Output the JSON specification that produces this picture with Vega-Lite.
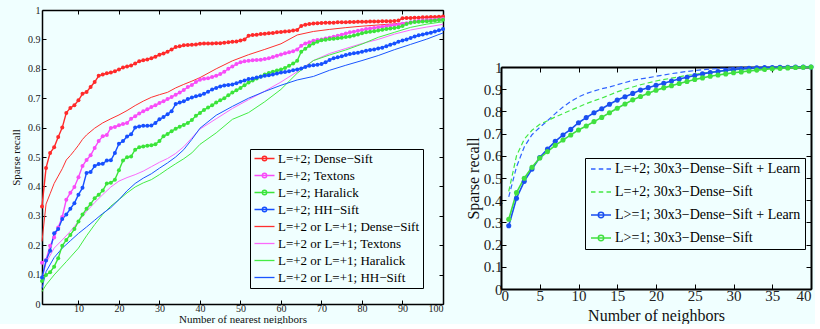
{
"$schema":"https://vega.github.io/schema/vega-lite/v6.json",
"background":"#f0ffff",
"padding":{"left":10,"top":5,"right":0,"bottom":0},
"spacing":19,
"config":{"font":"Liberation Serif","view":{"stroke":null},
"axis":{"grid":false,"domainColor":"black","tickColor":"black","labelColor":"#222","titleColor":"#111","labelFont":"Liberation Serif","titleFont":"Liberation Serif","titleFontWeight":"normal","labelOverlap":false}},
"resolve":{"scale":{"color":"independent","fill":"independent","stroke":"independent","shape":"independent"},"legend":{"color":"independent","fill":"independent","stroke":"independent","shape":"independent"}},
"datasets":{
"lm":[
{"s":"a","x":1,"y":0.332},{"s":"a","x":2,"y":0.463},{"s":"a","x":3,"y":0.514},{"s":"a","x":4,"y":0.533},{"s":"a","x":5,"y":0.568},{"s":"a","x":6,"y":0.600},{"s":"a","x":7,"y":0.650},{"s":"a","x":8,"y":0.667},{"s":"a","x":9,"y":0.676},{"s":"a","x":10,"y":0.693},
{"s":"a","x":11,"y":0.715},{"s":"a","x":12,"y":0.721},{"s":"a","x":13,"y":0.738},{"s":"a","x":14,"y":0.755},{"s":"a","x":15,"y":0.776},{"s":"a","x":16,"y":0.781},{"s":"a","x":17,"y":0.785},{"s":"a","x":18,"y":0.787},{"s":"a","x":19,"y":0.792},{"s":"a","x":20,"y":0.798},
{"s":"a","x":21,"y":0.804},{"s":"a","x":22,"y":0.808},{"s":"a","x":23,"y":0.811},{"s":"a","x":24,"y":0.818},{"s":"a","x":25,"y":0.826},{"s":"a","x":26,"y":0.829},{"s":"a","x":27,"y":0.832},{"s":"a","x":28,"y":0.836},{"s":"a","x":29,"y":0.841},{"s":"a","x":30,"y":0.848},
{"s":"a","x":31,"y":0.852},{"s":"a","x":32,"y":0.858},{"s":"a","x":33,"y":0.866},{"s":"a","x":34,"y":0.874},{"s":"a","x":35,"y":0.877},{"s":"a","x":36,"y":0.880},{"s":"a","x":37,"y":0.881},{"s":"a","x":38,"y":0.882},{"s":"a","x":39,"y":0.883},{"s":"a","x":40,"y":0.885},
{"s":"a","x":41,"y":0.886},{"s":"a","x":42,"y":0.886},{"s":"a","x":43,"y":0.886},{"s":"a","x":44,"y":0.887},{"s":"a","x":45,"y":0.887},{"s":"a","x":46,"y":0.889},{"s":"a","x":47,"y":0.890},{"s":"a","x":48,"y":0.892},{"s":"a","x":49,"y":0.893},{"s":"a","x":50,"y":0.896},
{"s":"a","x":51,"y":0.900},{"s":"a","x":52,"y":0.912},{"s":"a","x":53,"y":0.915},{"s":"a","x":54,"y":0.916},{"s":"a","x":55,"y":0.918},{"s":"a","x":56,"y":0.919},{"s":"a","x":57,"y":0.921},{"s":"a","x":58,"y":0.922},{"s":"a","x":59,"y":0.924},{"s":"a","x":60,"y":0.925},
{"s":"a","x":61,"y":0.927},{"s":"a","x":62,"y":0.928},{"s":"a","x":63,"y":0.930},{"s":"a","x":64,"y":0.932},{"s":"a","x":65,"y":0.946},{"s":"a","x":66,"y":0.950},{"s":"a","x":67,"y":0.952},{"s":"a","x":68,"y":0.954},{"s":"a","x":69,"y":0.955},{"s":"a","x":70,"y":0.956},
{"s":"a","x":71,"y":0.957},{"s":"a","x":72,"y":0.957},{"s":"a","x":73,"y":0.957},{"s":"a","x":74,"y":0.958},{"s":"a","x":75,"y":0.958},{"s":"a","x":76,"y":0.958},{"s":"a","x":77,"y":0.959},{"s":"a","x":78,"y":0.959},{"s":"a","x":79,"y":0.960},{"s":"a","x":80,"y":0.960},
{"s":"a","x":81,"y":0.960},{"s":"a","x":82,"y":0.961},{"s":"a","x":83,"y":0.961},{"s":"a","x":84,"y":0.961},{"s":"a","x":85,"y":0.962},{"s":"a","x":86,"y":0.962},{"s":"a","x":87,"y":0.962},{"s":"a","x":88,"y":0.963},{"s":"a","x":89,"y":0.964},{"s":"a","x":90,"y":0.972},
{"s":"a","x":91,"y":0.973},{"s":"a","x":92,"y":0.973},{"s":"a","x":93,"y":0.974},{"s":"a","x":94,"y":0.974},{"s":"a","x":95,"y":0.975},{"s":"a","x":96,"y":0.975},{"s":"a","x":97,"y":0.976},{"s":"a","x":98,"y":0.976},{"s":"a","x":99,"y":0.977},{"s":"a","x":100,"y":0.978},
{"s":"b","x":1,"y":0.140},{"s":"b","x":2,"y":0.150},{"s":"b","x":3,"y":0.198},{"s":"b","x":4,"y":0.226},{"s":"b","x":5,"y":0.260},{"s":"b","x":6,"y":0.296},{"s":"b","x":7,"y":0.355},{"s":"b","x":8,"y":0.378},{"s":"b","x":9,"y":0.398},{"s":"b","x":10,"y":0.431},
{"s":"b","x":11,"y":0.469},{"s":"b","x":12,"y":0.490},{"s":"b","x":13,"y":0.506},{"s":"b","x":14,"y":0.531},{"s":"b","x":15,"y":0.554},{"s":"b","x":16,"y":0.571},{"s":"b","x":17,"y":0.575},{"s":"b","x":18,"y":0.599},{"s":"b","x":19,"y":0.602},{"s":"b","x":20,"y":0.608},
{"s":"b","x":21,"y":0.612},{"s":"b","x":22,"y":0.616},{"s":"b","x":23,"y":0.630},{"s":"b","x":24,"y":0.639},{"s":"b","x":25,"y":0.648},{"s":"b","x":26,"y":0.656},{"s":"b","x":27,"y":0.662},{"s":"b","x":28,"y":0.670},{"s":"b","x":29,"y":0.676},{"s":"b","x":30,"y":0.684},
{"s":"b","x":31,"y":0.690},{"s":"b","x":32,"y":0.697},{"s":"b","x":33,"y":0.704},{"s":"b","x":34,"y":0.712},{"s":"b","x":35,"y":0.719},{"s":"b","x":36,"y":0.728},{"s":"b","x":37,"y":0.738},{"s":"b","x":38,"y":0.745},{"s":"b","x":39,"y":0.755},{"s":"b","x":40,"y":0.763},
{"s":"b","x":41,"y":0.766},{"s":"b","x":42,"y":0.768},{"s":"b","x":43,"y":0.772},{"s":"b","x":44,"y":0.776},{"s":"b","x":45,"y":0.782},{"s":"b","x":46,"y":0.790},{"s":"b","x":47,"y":0.800},{"s":"b","x":48,"y":0.808},{"s":"b","x":49,"y":0.816},{"s":"b","x":50,"y":0.822},
{"s":"b","x":51,"y":0.826},{"s":"b","x":52,"y":0.827},{"s":"b","x":53,"y":0.829},{"s":"b","x":54,"y":0.830},{"s":"b","x":55,"y":0.831},{"s":"b","x":56,"y":0.833},{"s":"b","x":57,"y":0.836},{"s":"b","x":58,"y":0.840},{"s":"b","x":59,"y":0.844},{"s":"b","x":60,"y":0.849},
{"s":"b","x":61,"y":0.853},{"s":"b","x":62,"y":0.856},{"s":"b","x":63,"y":0.860},{"s":"b","x":64,"y":0.866},{"s":"b","x":65,"y":0.878},{"s":"b","x":66,"y":0.886},{"s":"b","x":67,"y":0.890},{"s":"b","x":68,"y":0.895},{"s":"b","x":69,"y":0.898},{"s":"b","x":70,"y":0.900},
{"s":"b","x":71,"y":0.903},{"s":"b","x":72,"y":0.906},{"s":"b","x":73,"y":0.909},{"s":"b","x":74,"y":0.912},{"s":"b","x":75,"y":0.916},{"s":"b","x":76,"y":0.920},{"s":"b","x":77,"y":0.924},{"s":"b","x":78,"y":0.926},{"s":"b","x":79,"y":0.929},{"s":"b","x":80,"y":0.932},
{"s":"b","x":81,"y":0.935},{"s":"b","x":82,"y":0.937},{"s":"b","x":83,"y":0.939},{"s":"b","x":84,"y":0.941},{"s":"b","x":85,"y":0.943},{"s":"b","x":86,"y":0.945},{"s":"b","x":87,"y":0.947},{"s":"b","x":88,"y":0.949},{"s":"b","x":89,"y":0.951},{"s":"b","x":90,"y":0.953},
{"s":"b","x":91,"y":0.955},{"s":"b","x":92,"y":0.958},{"s":"b","x":93,"y":0.961},{"s":"b","x":94,"y":0.963},{"s":"b","x":95,"y":0.964},{"s":"b","x":96,"y":0.965},{"s":"b","x":97,"y":0.966},{"s":"b","x":98,"y":0.967},{"s":"b","x":99,"y":0.968},{"s":"b","x":100,"y":0.969},
{"s":"c","x":1,"y":0.078},{"s":"c","x":2,"y":0.099},{"s":"c","x":3,"y":0.108},{"s":"c","x":4,"y":0.127},{"s":"c","x":5,"y":0.156},{"s":"c","x":6,"y":0.198},{"s":"c","x":7,"y":0.218},{"s":"c","x":8,"y":0.235},{"s":"c","x":9,"y":0.255},{"s":"c","x":10,"y":0.281},
{"s":"c","x":11,"y":0.304},{"s":"c","x":12,"y":0.324},{"s":"c","x":13,"y":0.340},{"s":"c","x":14,"y":0.360},{"s":"c","x":15,"y":0.372},{"s":"c","x":16,"y":0.386},{"s":"c","x":17,"y":0.410},{"s":"c","x":18,"y":0.412},{"s":"c","x":19,"y":0.423},{"s":"c","x":20,"y":0.455},
{"s":"c","x":21,"y":0.488},{"s":"c","x":22,"y":0.499},{"s":"c","x":23,"y":0.502},{"s":"c","x":24,"y":0.525},{"s":"c","x":25,"y":0.533},{"s":"c","x":26,"y":0.536},{"s":"c","x":27,"y":0.538},{"s":"c","x":28,"y":0.540},{"s":"c","x":29,"y":0.543},{"s":"c","x":30,"y":0.554},
{"s":"c","x":31,"y":0.571},{"s":"c","x":32,"y":0.578},{"s":"c","x":33,"y":0.588},{"s":"c","x":34,"y":0.596},{"s":"c","x":35,"y":0.603},{"s":"c","x":36,"y":0.609},{"s":"c","x":37,"y":0.616},{"s":"c","x":38,"y":0.626},{"s":"c","x":39,"y":0.640},{"s":"c","x":40,"y":0.650},
{"s":"c","x":41,"y":0.660},{"s":"c","x":42,"y":0.668},{"s":"c","x":43,"y":0.676},{"s":"c","x":44,"y":0.685},{"s":"c","x":45,"y":0.693},{"s":"c","x":46,"y":0.700},{"s":"c","x":47,"y":0.710},{"s":"c","x":48,"y":0.719},{"s":"c","x":49,"y":0.727},{"s":"c","x":50,"y":0.735},
{"s":"c","x":51,"y":0.744},{"s":"c","x":52,"y":0.753},{"s":"c","x":53,"y":0.760},{"s":"c","x":54,"y":0.767},{"s":"c","x":55,"y":0.774},{"s":"c","x":56,"y":0.781},{"s":"c","x":57,"y":0.786},{"s":"c","x":58,"y":0.790},{"s":"c","x":59,"y":0.794},{"s":"c","x":60,"y":0.798},
{"s":"c","x":61,"y":0.803},{"s":"c","x":62,"y":0.810},{"s":"c","x":63,"y":0.818},{"s":"c","x":64,"y":0.827},{"s":"c","x":65,"y":0.858},{"s":"c","x":66,"y":0.868},{"s":"c","x":67,"y":0.878},{"s":"c","x":68,"y":0.886},{"s":"c","x":69,"y":0.892},{"s":"c","x":70,"y":0.897},
{"s":"c","x":71,"y":0.899},{"s":"c","x":72,"y":0.901},{"s":"c","x":73,"y":0.902},{"s":"c","x":74,"y":0.904},{"s":"c","x":75,"y":0.906},{"s":"c","x":76,"y":0.908},{"s":"c","x":77,"y":0.910},{"s":"c","x":78,"y":0.913},{"s":"c","x":79,"y":0.917},{"s":"c","x":80,"y":0.921},
{"s":"c","x":81,"y":0.924},{"s":"c","x":82,"y":0.926},{"s":"c","x":83,"y":0.928},{"s":"c","x":84,"y":0.930},{"s":"c","x":85,"y":0.933},{"s":"c","x":86,"y":0.935},{"s":"c","x":87,"y":0.937},{"s":"c","x":88,"y":0.939},{"s":"c","x":89,"y":0.941},{"s":"c","x":90,"y":0.946},
{"s":"c","x":91,"y":0.952},{"s":"c","x":92,"y":0.957},{"s":"c","x":93,"y":0.959},{"s":"c","x":94,"y":0.960},{"s":"c","x":95,"y":0.961},{"s":"c","x":96,"y":0.962},{"s":"c","x":97,"y":0.963},{"s":"c","x":98,"y":0.964},{"s":"c","x":99,"y":0.966},{"s":"c","x":100,"y":0.967},
{"s":"d","x":1,"y":0.090},{"s":"d","x":2,"y":0.148},{"s":"d","x":3,"y":0.181},{"s":"d","x":4,"y":0.241},{"s":"d","x":5,"y":0.255},{"s":"d","x":6,"y":0.289},{"s":"d","x":7,"y":0.304},{"s":"d","x":8,"y":0.324},{"s":"d","x":9,"y":0.343},{"s":"d","x":10,"y":0.372},
{"s":"d","x":11,"y":0.395},{"s":"d","x":12,"y":0.446},{"s":"d","x":13,"y":0.449},{"s":"d","x":14,"y":0.469},{"s":"d","x":15,"y":0.476},{"s":"d","x":16,"y":0.477},{"s":"d","x":17,"y":0.488},{"s":"d","x":18,"y":0.489},{"s":"d","x":19,"y":0.514},{"s":"d","x":20,"y":0.545},
{"s":"d","x":21,"y":0.554},{"s":"d","x":22,"y":0.570},{"s":"d","x":23,"y":0.577},{"s":"d","x":24,"y":0.600},{"s":"d","x":25,"y":0.604},{"s":"d","x":26,"y":0.606},{"s":"d","x":27,"y":0.606},{"s":"d","x":28,"y":0.607},{"s":"d","x":29,"y":0.616},{"s":"d","x":30,"y":0.628},
{"s":"d","x":31,"y":0.636},{"s":"d","x":32,"y":0.645},{"s":"d","x":33,"y":0.656},{"s":"d","x":34,"y":0.680},{"s":"d","x":35,"y":0.685},{"s":"d","x":36,"y":0.690},{"s":"d","x":37,"y":0.697},{"s":"d","x":38,"y":0.702},{"s":"d","x":39,"y":0.707},{"s":"d","x":40,"y":0.710},
{"s":"d","x":41,"y":0.715},{"s":"d","x":42,"y":0.722},{"s":"d","x":43,"y":0.730},{"s":"d","x":44,"y":0.735},{"s":"d","x":45,"y":0.740},{"s":"d","x":46,"y":0.743},{"s":"d","x":47,"y":0.745},{"s":"d","x":48,"y":0.747},{"s":"d","x":49,"y":0.751},{"s":"d","x":50,"y":0.756},
{"s":"d","x":51,"y":0.760},{"s":"d","x":52,"y":0.765},{"s":"d","x":53,"y":0.767},{"s":"d","x":54,"y":0.770},{"s":"d","x":55,"y":0.773},{"s":"d","x":56,"y":0.776},{"s":"d","x":57,"y":0.778},{"s":"d","x":58,"y":0.781},{"s":"d","x":59,"y":0.784},{"s":"d","x":60,"y":0.787},
{"s":"d","x":61,"y":0.789},{"s":"d","x":62,"y":0.792},{"s":"d","x":63,"y":0.795},{"s":"d","x":64,"y":0.798},{"s":"d","x":65,"y":0.801},{"s":"d","x":66,"y":0.806},{"s":"d","x":67,"y":0.810},{"s":"d","x":68,"y":0.812},{"s":"d","x":69,"y":0.814},{"s":"d","x":70,"y":0.816},
{"s":"d","x":71,"y":0.822},{"s":"d","x":72,"y":0.830},{"s":"d","x":73,"y":0.836},{"s":"d","x":74,"y":0.839},{"s":"d","x":75,"y":0.843},{"s":"d","x":76,"y":0.847},{"s":"d","x":77,"y":0.850},{"s":"d","x":78,"y":0.853},{"s":"d","x":79,"y":0.855},{"s":"d","x":80,"y":0.858},
{"s":"d","x":81,"y":0.861},{"s":"d","x":82,"y":0.864},{"s":"d","x":83,"y":0.866},{"s":"d","x":84,"y":0.869},{"s":"d","x":85,"y":0.872},{"s":"d","x":86,"y":0.877},{"s":"d","x":87,"y":0.882},{"s":"d","x":88,"y":0.886},{"s":"d","x":89,"y":0.892},{"s":"d","x":90,"y":0.896},
{"s":"d","x":91,"y":0.900},{"s":"d","x":92,"y":0.905},{"s":"d","x":93,"y":0.910},{"s":"d","x":94,"y":0.914},{"s":"d","x":95,"y":0.917},{"s":"d","x":96,"y":0.920},{"s":"d","x":97,"y":0.923},{"s":"d","x":98,"y":0.927},{"s":"d","x":99,"y":0.931},{"s":"d","x":100,"y":0.935}
],
"lt":[
{"s":"e","x":1,"y":0.213},{"s":"e","x":2,"y":0.34},{"s":"e","x":3,"y":0.375},{"s":"e","x":4,"y":0.41},{"s":"e","x":5,"y":0.435},{"s":"e","x":6,"y":0.46},{"s":"e","x":7,"y":0.49},{"s":"e","x":8,"y":0.505},{"s":"e","x":9,"y":0.522},{"s":"e","x":10,"y":0.54},{"s":"e","x":11,"y":0.56},{"s":"e","x":12,"y":0.575},{"s":"e","x":14,"y":0.598},{"s":"e","x":16,"y":0.616},{"s":"e","x":18,"y":0.630},{"s":"e","x":20,"y":0.643},{"s":"e","x":22,"y":0.658},{"s":"e","x":24,"y":0.675},{"s":"e","x":26,"y":0.690},{"s":"e","x":28,"y":0.703},{"s":"e","x":30,"y":0.712},{"s":"e","x":32,"y":0.720},{"s":"e","x":34,"y":0.735},{"s":"e","x":36,"y":0.747},{"s":"e","x":38,"y":0.758},{"s":"e","x":40,"y":0.770},{"s":"e","x":44,"y":0.800},{"s":"e","x":48,"y":0.827},{"s":"e","x":52,"y":0.848},{"s":"e","x":56,"y":0.866},{"s":"e","x":60,"y":0.885},{"s":"e","x":64,"y":0.915},{"s":"e","x":68,"y":0.927},{"s":"e","x":72,"y":0.934},{"s":"e","x":76,"y":0.940},{"s":"e","x":80,"y":0.945},{"s":"e","x":84,"y":0.949},{"s":"e","x":88,"y":0.953},{"s":"e","x":92,"y":0.958},{"s":"e","x":96,"y":0.963},{"s":"e","x":100,"y":0.968},
{"s":"f","x":1,"y":0.082},{"s":"f","x":2,"y":0.14},{"s":"f","x":4,"y":0.19},{"s":"f","x":6,"y":0.218},{"s":"f","x":8,"y":0.247},{"s":"f","x":10,"y":0.281},{"s":"f","x":12,"y":0.315},{"s":"f","x":14,"y":0.345},{"s":"f","x":16,"y":0.372},{"s":"f","x":18,"y":0.398},{"s":"f","x":20,"y":0.418},{"s":"f","x":22,"y":0.430},{"s":"f","x":24,"y":0.440},{"s":"f","x":26,"y":0.452},{"s":"f","x":28,"y":0.467},{"s":"f","x":30,"y":0.482},{"s":"f","x":32,"y":0.495},{"s":"f","x":34,"y":0.512},{"s":"f","x":36,"y":0.535},{"s":"f","x":38,"y":0.565},{"s":"f","x":40,"y":0.595},{"s":"f","x":44,"y":0.630},{"s":"f","x":48,"y":0.665},{"s":"f","x":52,"y":0.695},{"s":"f","x":56,"y":0.724},{"s":"f","x":60,"y":0.755},{"s":"f","x":64,"y":0.790},{"s":"f","x":68,"y":0.828},{"s":"f","x":72,"y":0.852},{"s":"f","x":76,"y":0.869},{"s":"f","x":80,"y":0.886},{"s":"f","x":84,"y":0.900},{"s":"f","x":88,"y":0.918},{"s":"f","x":92,"y":0.932},{"s":"f","x":96,"y":0.942},{"s":"f","x":100,"y":0.951},
{"s":"g","x":1,"y":0.042},{"s":"g","x":2,"y":0.065},{"s":"g","x":4,"y":0.099},{"s":"g","x":7,"y":0.144},{"s":"g","x":10,"y":0.19},{"s":"g","x":12,"y":0.232},{"s":"g","x":14,"y":0.27},{"s":"g","x":16,"y":0.305},{"s":"g","x":18,"y":0.333},{"s":"g","x":20,"y":0.355},{"s":"g","x":22,"y":0.378},{"s":"g","x":24,"y":0.398},{"s":"g","x":26,"y":0.412},{"s":"g","x":28,"y":0.423},{"s":"g","x":30,"y":0.44},{"s":"g","x":32,"y":0.459},{"s":"g","x":34,"y":0.477},{"s":"g","x":36,"y":0.494},{"s":"g","x":38,"y":0.514},{"s":"g","x":40,"y":0.543},{"s":"g","x":44,"y":0.582},{"s":"g","x":48,"y":0.628},{"s":"g","x":52,"y":0.651},{"s":"g","x":56,"y":0.688},{"s":"g","x":60,"y":0.73},{"s":"g","x":64,"y":0.785},{"s":"g","x":68,"y":0.828},{"s":"g","x":72,"y":0.847},{"s":"g","x":76,"y":0.864},{"s":"g","x":80,"y":0.884},{"s":"g","x":84,"y":0.907},{"s":"g","x":88,"y":0.924},{"s":"g","x":92,"y":0.941},{"s":"g","x":96,"y":0.952},{"s":"g","x":100,"y":0.96},
{"s":"h","x":1,"y":0.053},{"s":"h","x":2,"y":0.11},{"s":"h","x":4,"y":0.158},{"s":"h","x":6,"y":0.19},{"s":"h","x":8,"y":0.215},{"s":"h","x":10,"y":0.24},{"s":"h","x":12,"y":0.262},{"s":"h","x":14,"y":0.285},{"s":"h","x":16,"y":0.308},{"s":"h","x":18,"y":0.328},{"s":"h","x":20,"y":0.355},{"s":"h","x":22,"y":0.385},{"s":"h","x":24,"y":0.410},{"s":"h","x":26,"y":0.428},{"s":"h","x":28,"y":0.443},{"s":"h","x":30,"y":0.462},{"s":"h","x":32,"y":0.48},{"s":"h","x":34,"y":0.50},{"s":"h","x":36,"y":0.525},{"s":"h","x":38,"y":0.56},{"s":"h","x":40,"y":0.598},{"s":"h","x":44,"y":0.642},{"s":"h","x":48,"y":0.672},{"s":"h","x":52,"y":0.700},{"s":"h","x":56,"y":0.723},{"s":"h","x":60,"y":0.744},{"s":"h","x":64,"y":0.762},{"s":"h","x":68,"y":0.774},{"s":"h","x":72,"y":0.795},{"s":"h","x":76,"y":0.812},{"s":"h","x":80,"y":0.828},{"s":"h","x":84,"y":0.845},{"s":"h","x":88,"y":0.865},{"s":"h","x":92,"y":0.883},{"s":"h","x":96,"y":0.901},{"s":"h","x":100,"y":0.922}
],
"rm":[
{"s":"p","x":1,"y":0.285},{"s":"p","x":2,"y":0.409},{"s":"p","x":3,"y":0.485},{"s":"p","x":4,"y":0.540},{"s":"p","x":5,"y":0.592},{"s":"p","x":6,"y":0.630},{"s":"p","x":7,"y":0.665},{"s":"p","x":8,"y":0.694},{"s":"p","x":9,"y":0.719},{"s":"p","x":10,"y":0.749},
{"s":"p","x":11,"y":0.772},{"s":"p","x":12,"y":0.794},{"s":"p","x":13,"y":0.812},{"s":"p","x":14,"y":0.832},{"s":"p","x":15,"y":0.851},{"s":"p","x":16,"y":0.866},{"s":"p","x":17,"y":0.881},{"s":"p","x":18,"y":0.896},{"s":"p","x":19,"y":0.907},{"s":"p","x":20,"y":0.918},
{"s":"p","x":21,"y":0.927},{"s":"p","x":22,"y":0.937},{"s":"p","x":23,"y":0.946},{"s":"p","x":24,"y":0.954},{"s":"p","x":25,"y":0.962},{"s":"p","x":26,"y":0.969},{"s":"p","x":27,"y":0.975},{"s":"p","x":28,"y":0.980},{"s":"p","x":29,"y":0.985},{"s":"p","x":30,"y":0.989},
{"s":"p","x":31,"y":0.992},{"s":"p","x":32,"y":0.994},{"s":"p","x":33,"y":0.996},{"s":"p","x":34,"y":0.997},{"s":"p","x":35,"y":0.998},{"s":"p","x":36,"y":0.999},{"s":"p","x":37,"y":0.999},{"s":"p","x":38,"y":1.0},{"s":"p","x":39,"y":1.0},{"s":"p","x":40,"y":1.0},
{"s":"q","x":1,"y":0.314},{"s":"q","x":2,"y":0.434},{"s":"q","x":3,"y":0.499},{"s":"q","x":4,"y":0.548},{"s":"q","x":5,"y":0.590},{"s":"q","x":6,"y":0.619},{"s":"q","x":7,"y":0.647},{"s":"q","x":8,"y":0.671},{"s":"q","x":9,"y":0.694},{"s":"q","x":10,"y":0.716},
{"s":"q","x":11,"y":0.734},{"s":"q","x":12,"y":0.754},{"s":"q","x":13,"y":0.773},{"s":"q","x":14,"y":0.794},{"s":"q","x":15,"y":0.814},{"s":"q","x":16,"y":0.833},{"s":"q","x":17,"y":0.852},{"s":"q","x":18,"y":0.867},{"s":"q","x":19,"y":0.882},{"s":"q","x":20,"y":0.895},
{"s":"q","x":21,"y":0.906},{"s":"q","x":22,"y":0.916},{"s":"q","x":23,"y":0.926},{"s":"q","x":24,"y":0.935},{"s":"q","x":25,"y":0.944},{"s":"q","x":26,"y":0.951},{"s":"q","x":27,"y":0.958},{"s":"q","x":28,"y":0.964},{"s":"q","x":29,"y":0.969},{"s":"q","x":30,"y":0.974},
{"s":"q","x":31,"y":0.978},{"s":"q","x":32,"y":0.982},{"s":"q","x":33,"y":0.986},{"s":"q","x":34,"y":0.989},{"s":"q","x":35,"y":0.992},{"s":"q","x":36,"y":0.994},{"s":"q","x":37,"y":0.996},{"s":"q","x":38,"y":0.998},{"s":"q","x":39,"y":0.999},{"s":"q","x":40,"y":1.0}
],
"rd":[
{"s":"r","x":1,"y":0.415},{"s":"r","x":2,"y":0.55},{"s":"r","x":3,"y":0.64},{"s":"r","x":4,"y":0.695},{"s":"r","x":5,"y":0.728},{"s":"r","x":6,"y":0.758},{"s":"r","x":7,"y":0.79},{"s":"r","x":8,"y":0.82},{"s":"r","x":9,"y":0.845},{"s":"r","x":10,"y":0.865},{"s":"r","x":11,"y":0.88},{"s":"r","x":12,"y":0.892},{"s":"r","x":13,"y":0.902},{"s":"r","x":14,"y":0.91},{"s":"r","x":15,"y":0.92},{"s":"r","x":16,"y":0.93},{"s":"r","x":17,"y":0.94},{"s":"r","x":18,"y":0.946},{"s":"r","x":20,"y":0.958},{"s":"r","x":22,"y":0.97},{"s":"r","x":24,"y":0.98},{"s":"r","x":26,"y":0.988},{"s":"r","x":28,"y":0.993},{"s":"r","x":30,"y":0.996},{"s":"r","x":32,"y":0.998},{"s":"r","x":35,"y":1.0},{"s":"r","x":40,"y":1.0},
{"s":"t","x":1,"y":0.44},{"s":"t","x":2,"y":0.60},{"s":"t","x":3,"y":0.675},{"s":"t","x":4,"y":0.715},{"s":"t","x":5,"y":0.742},{"s":"t","x":6,"y":0.758},{"s":"t","x":7,"y":0.775},{"s":"t","x":8,"y":0.79},{"s":"t","x":9,"y":0.805},{"s":"t","x":10,"y":0.82},{"s":"t","x":11,"y":0.835},{"s":"t","x":12,"y":0.848},{"s":"t","x":13,"y":0.86},{"s":"t","x":14,"y":0.874},{"s":"t","x":15,"y":0.888},{"s":"t","x":16,"y":0.9},{"s":"t","x":17,"y":0.91},{"s":"t","x":18,"y":0.92},{"s":"t","x":20,"y":0.937},{"s":"t","x":22,"y":0.95},{"s":"t","x":24,"y":0.962},{"s":"t","x":26,"y":0.972},{"s":"t","x":28,"y":0.98},{"s":"t","x":30,"y":0.987},{"s":"t","x":32,"y":0.992},{"s":"t","x":34,"y":0.996},{"s":"t","x":36,"y":0.998},{"s":"t","x":38,"y":1.0},{"s":"t","x":40,"y":1.0}
]
},
"hconcat":[
{
"width":401,"height":294,
"layer":[
{"data":{"name":"lt"},"mark":{"type":"line","strokeWidth":1},
"encoding":{
"x":{"field":"x","type":"quantitative","scale":{"domain":[1,100],"nice":false,"zero":false},"axis":{"orient":"bottom","values":[10,20,30,40,50,60,70,80,90,100],"title":"Number of nearest neighbors","tickSize":-4,"labelPadding":3,"labelFontSize":10,"titleFontSize":11,"titlePadding":0,"domainWidth":1.5}},
"y":{"field":"y","type":"quantitative","scale":{"domain":[0,1],"nice":false},"axis":{"orient":"left","values":[0,0.1,0.2,0.3,0.4,0.5,0.6,0.7,0.8,0.9,1],"format":"~g","title":"Sparse recall","tickSize":-4,"labelPadding":6,"labelFontSize":10,"titleFontSize":11,"titlePadding":6,"domainWidth":1.5,"labelFlush":false}},
"color":{"field":"s","type":"nominal","scale":{"domain":["h","g","f","e","d","c","b","a"],"range":["#1a55ff","#44ec44","#fb6afb","#ff3030","#1650ff","#3ae43a","#f84cf8","#ff2a2a"]},"legend":null}}},
{"data":{"name":"lm"},"mark":{"type":"line","strokeWidth":1.4},
"encoding":{
"x":{"field":"x","type":"quantitative","axis":{"orient":"top","values":[10,20,30,40,50,60,70,80,90,100],"labels":false,"title":null,"tickSize":-4,"domainWidth":1.5}},
"y":{"field":"y","type":"quantitative","axis":{"orient":"right","values":[0,0.1,0.2,0.3,0.4,0.5,0.6,0.7,0.8,0.9,1],"labels":false,"title":null,"tickSize":-4,"domainWidth":1.5}},
"color":{"field":"s","type":"nominal","legend":null}}},
{"data":{"name":"lm"},"mark":{"type":"point","filled":true,"size":16,"opacity":1},
"encoding":{
"x":{"field":"x","type":"quantitative","axis":null},
"y":{"field":"y","type":"quantitative","axis":null},
"color":{"field":"s","type":"nominal","legend":null}}},
{"data":{"name":"lm"},"transform":[{"filter":"datum.x == 1"}],"mark":{"type":"point","filled":true,"opacity":0},
"encoding":{
"x":{"field":"x","type":"quantitative","axis":null},
"y":{"field":"y","type":"quantitative","axis":null},
"fill":{"field":"s","type":"nominal","scale":{"domain":["a","b","c","d","e","f","g","h"],"range":["#ff2a2a","#f84cf8","#3ae43a","#1650ff","#ff3030","#fb6afb","#44ec44","#1a55ff"]},
"legend":{"orient":"none","legendX":208,"legendY":139,"title":null,"padding":3,"strokeColor":"black","fillColor":"#f0ffff","labelFont":"Liberation Serif","labelFontSize":13,"labelColor":"black","labelLimit":300,"symbolSize":100,"symbolStrokeWidth":1.3,"symbolOpacity":1,"rowPadding":3,"labelOffset":12,
"labelExpr":"datum.label=='a'?'L=+2; Dense−Sift':datum.label=='b'?'L=+2; Textons':datum.label=='c'?'L=+2; Haralick':datum.label=='d'?'L=+2; HH−Sift':datum.label=='e'?'L=+2 or L=+1; Dense−Sift':datum.label=='f'?'L=+2 or L=+1; Textons':datum.label=='g'?'L=+2 or L=+1; Haralick':'L=+2 or L=+1; HH−Sift'"}},
"stroke":{"field":"s","type":"nominal","scale":{"domain":["a","b","c","d","e","f","g","h"],"range":["#ff2a2a","#f84cf8","#3ae43a","#1650ff","#ff3030","#fb6afb","#44ec44","#1a55ff"]}},
"shape":{"field":"s","type":"nominal","scale":{"domain":["a","b","c","d","e","f","g","h"],"range":["M-1,0H3M1.45,0A0.45,0.45,0,1,1,0.55,0A0.45,0.45,0,1,1,1.45,0Z","M-1,0H3M1.45,0A0.45,0.45,0,1,1,0.55,0A0.45,0.45,0,1,1,1.45,0Z","M-1,0H3M1.45,0A0.45,0.45,0,1,1,0.55,0A0.45,0.45,0,1,1,1.45,0Z","M-1,0H3M1.45,0A0.45,0.45,0,1,1,0.55,0A0.45,0.45,0,1,1,1.45,0Z","M-1,0H3","M-1,0H3","M-1,0H3","M-1,0H3"]}}}}
],
"resolve":{"axis":{"x":"independent","y":"independent"}}
},
{
"spacing":0,
"resolve":{"scale":{"color":"independent","fill":"independent","stroke":"independent","shape":"independent"},"legend":{"color":"independent","fill":"independent","stroke":"independent","shape":"independent"}},
"vconcat":[
{"width":310,"height":50,"data":{"values":[{}]},"mark":{"type":"text"},"encoding":{}},
{
"width":310,"height":222,
"layer":[
{"data":{"name":"rd"},"mark":{"type":"line","strokeWidth":1.2,"strokeDash":[5,3]},
"encoding":{
"x":{"field":"x","type":"quantitative","scale":{"domain":[0,40],"nice":false},"axis":{"orient":"bottom","values":[0,5,10,15,20,25,30,35,40],"title":"Number of neighbors","tickSize":-5,"labelPadding":4,"labelFontSize":15,"titleFontSize":16,"titlePadding":4,"domainWidth":2}},
"y":{"field":"y","type":"quantitative","scale":{"domain":[0,1],"nice":false},"axis":{"orient":"left","values":[0,0.1,0.2,0.3,0.4,0.5,0.6,0.7,0.8,0.9,1],"format":"~g","title":"Sparse recall","tickSize":-5,"labelPadding":4,"labelFontSize":15,"titleFontSize":16,"titlePadding":2,"domainWidth":2}},
"color":{"field":"s","type":"nominal","scale":{"domain":["q","p","t","r"],"range":["#40e040","#1a4ff0","#44e844","#2f62ff"]},"legend":null}}},
{"data":{"name":"rm"},"mark":{"type":"line","strokeWidth":1.6},
"encoding":{
"x":{"field":"x","type":"quantitative","axis":{"orient":"top","values":[0,5,10,15,20,25,30,35,40],"labels":false,"title":null,"tickSize":-5,"domainWidth":2}},
"y":{"field":"y","type":"quantitative","axis":{"orient":"right","values":[0,0.1,0.2,0.3,0.4,0.5,0.6,0.7,0.8,0.9,1],"labels":false,"title":null,"tickSize":-5,"domainWidth":2}},
"color":{"field":"s","type":"nominal","legend":null}}},
{"data":{"name":"rm"},"mark":{"type":"point","filled":true,"size":26,"opacity":1},
"encoding":{
"x":{"field":"x","type":"quantitative","axis":null},
"y":{"field":"y","type":"quantitative","axis":null},
"color":{"field":"s","type":"nominal","legend":null}}},
{"data":{"name":"rm"},"transform":[{"filter":"datum.x == 1"}],"mark":{"type":"point","filled":true,"opacity":0},
"encoding":{
"x":{"field":"x","type":"quantitative","axis":null},
"y":{"field":"y","type":"quantitative","axis":null},
"fill":{"field":"s","type":"nominal","scale":{"domain":["r","t","p","q"],"range":["#2f62ff","#44e844","#1a4ff0","#40e040"]},
"legend":{"orient":"none","legendX":84,"legendY":91,"title":null,"padding":4,"strokeColor":"black","fillColor":"#f0ffff","labelFont":"Liberation Serif","labelFontSize":14,"labelColor":"black","labelLimit":400,"symbolSize":100,"symbolStrokeWidth":1.4,"symbolOpacity":1,"rowPadding":9,"labelOffset":12,
"labelExpr":"datum.label=='r'?'L=+2; 30x3−Dense−Sift + Learn':datum.label=='t'?'L=+2; 30x3−Dense−Sift':datum.label=='p'?'L>=1; 30x3−Dense−Sift + Learn':'L>=1; 30x3−Dense−Sift'"}},
"stroke":{"field":"s","type":"nominal","scale":{"domain":["r","t","p","q"],"range":["#2f62ff","#44e844","#1a4ff0","#40e040"]}},
"shape":{"field":"s","type":"nominal","scale":{"domain":["r","t","p","q"],"range":["M-1,0H-0.1M0.55,0H1.45M2.1,0H3","M-1,0H-0.1M0.55,0H1.45M2.1,0H3","M-1,0H3M1.55,0A0.55,0.55,0,1,1,0.45,0A0.55,0.55,0,1,1,1.55,0Z","M-1,0H3M1.55,0A0.55,0.55,0,1,1,0.45,0A0.55,0.55,0,1,1,1.55,0Z"]}}}}
],
"resolve":{"axis":{"x":"independent","y":"independent"}}
}
]
}
]
}
